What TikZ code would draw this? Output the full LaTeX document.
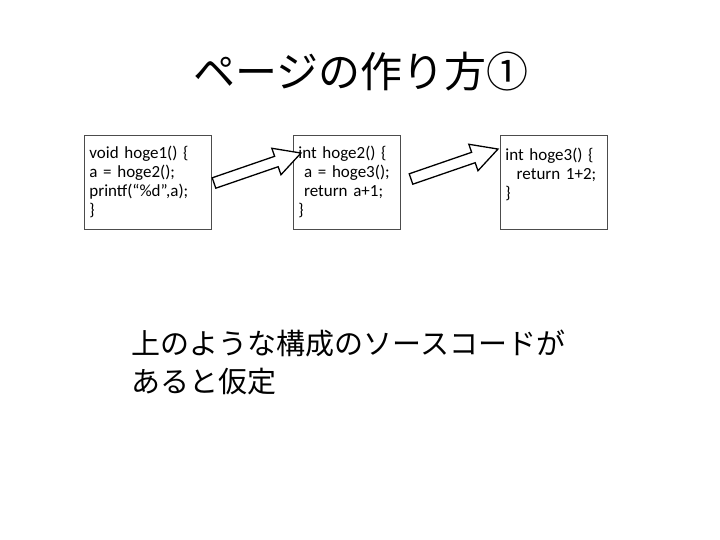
\documentclass[tikz,border=0pt]{standalone}
\usepackage{fontspec}
\setmainfont{Carlito}
\newfontfamily\jpfont{Noto Sans CJK JP}
\usetikzlibrary{positioning}
\begin{document}
\begin{tikzpicture}[x=1pt,y=-1pt,
    codebox/.style={draw=black!70, line width=0.8pt, anchor=north west, minimum height=94pt,
      align=left, text width=#1, inner sep=5pt, font=\fontsize{17}{19}\selectfont},
    bigarrow/.style={draw=black, line width=1.3pt, fill=white, line join=miter}]
    \useasboundingbox (0,0) rectangle (720,540);

    \node[font=\jpfont\fontsize{42}{44}\selectfont] (title) at (361,72) {ページの作り方①};

    \node[codebox=117pt] (f1) at (84,135) {void hoge1() \{\\ a = hoge2();\\ printf(“\%d”,a);\\\}};
    \node[codebox=97pt] (f2) at (293,135) {int hoge2() \{\\ \ a = hoge3();\\ \ return a+1;\\ \}};
    \node[codebox=97pt] (f3) at (500,135) {int hoge3() \{\\ \ \ return 1+2;\\ \}\\\mbox{}};

    % block arrows between boxes
    \foreach \x/\y in {214/183, 411/179}
      \draw[bigarrow, shift={(\x,\y)}, rotate=19]
        (0,-5.5) -- (66,-5.5) -- (66,-14) -- (92,0) -- (66,14) -- (66,5.5) -- (0,5.5) -- cycle;

    \node[anchor=north west, align=left, font=\jpfont\fontsize{29}{38}\selectfont] (note) at (128,326)
      {上のような構成のソースコードが\\あると仮定};
\end{tikzpicture}
\end{document}
